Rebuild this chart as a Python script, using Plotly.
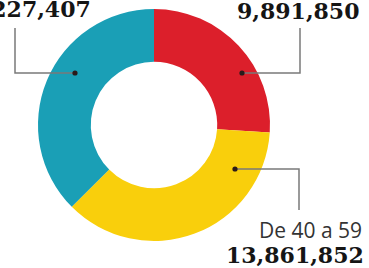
import plotly.graph_objects as go

# ---- data ----
groups = ["Rojo", "De 40 a 59", "Azul"]
values = [9891850, 13861852, 14227407]
value_labels = ["9,891,850", "13,861,852", "14,227,407"]
colors = ["#dc1f2b", "#f9cf0c", "#1a9fb6"]

W, H = 369, 268
def X(px):
    return px / W
def Y(py):
    return 1 - py / H

cx, cy, r = 154, 125, 116

fig = go.Figure(go.Pie(
    labels=groups, values=values, sort=False, direction="clockwise", rotation=0,
    hole=0.545, marker=dict(colors=colors, line=dict(width=0)),
    textinfo="none", hoverinfo="label+value", showlegend=False,
    domain=dict(x=[X(cx - r), X(cx + r)], y=[Y(cy + r), Y(cy - r)]),
))

line_col = "#7a7a7a"
leaders = [
    [(242, 73), (300, 73), (300, 28)],
    [(235, 169), (299, 169), (299, 210)],
    [(75, 73), (15, 73), (15, 28)],
]
shapes = []
for pts in leaders:
    path = "M " + " L ".join(f"{X(p[0])},{Y(p[1])}" for p in pts)
    shapes.append(dict(type="path", xref="paper", yref="paper", path=path,
                       line=dict(color=line_col, width=1.5)))
    dx, dy = pts[0]
    rr = 2.6
    shapes.append(dict(type="circle", xref="paper", yref="paper",
                       x0=X(dx - rr), x1=X(dx + rr), y0=Y(dy + rr), y1=Y(dy - rr),
                       fillcolor="#2a1a1a", line=dict(width=0)))

num_font = dict(family="DejaVu Serif", size=22, color="#151515", weight="bold")
annotations = [
    dict(text=value_labels[0], x=X(298), y=Y(11), xanchor="center", yanchor="middle"),
    dict(text=value_labels[1], x=X(366), y=Y(255), xanchor="right", yanchor="middle"),
    dict(text=value_labels[2], x=X(93), y=Y(9), xanchor="right", yanchor="middle"),
]
for a in annotations:
    a.update(xref="paper", yref="paper", showarrow=False, font=num_font)
annotations.append(dict(text=groups[1], x=X(364), y=Y(230), xref="paper", yref="paper",
                        xanchor="right", yanchor="middle", showarrow=False,
                        font=dict(family="Open Sans", size=21, color="#333333")))

fig.update_layout(
    width=W, height=H, margin=dict(l=0, r=0, t=0, b=0),
    paper_bgcolor="white", plot_bgcolor="white",
    shapes=shapes, annotations=annotations,
)
fig.write_html("out.html", config={"displayModeBar": False},
               post_script="document.body.style.margin='0';document.body.style.overflow='hidden';")
